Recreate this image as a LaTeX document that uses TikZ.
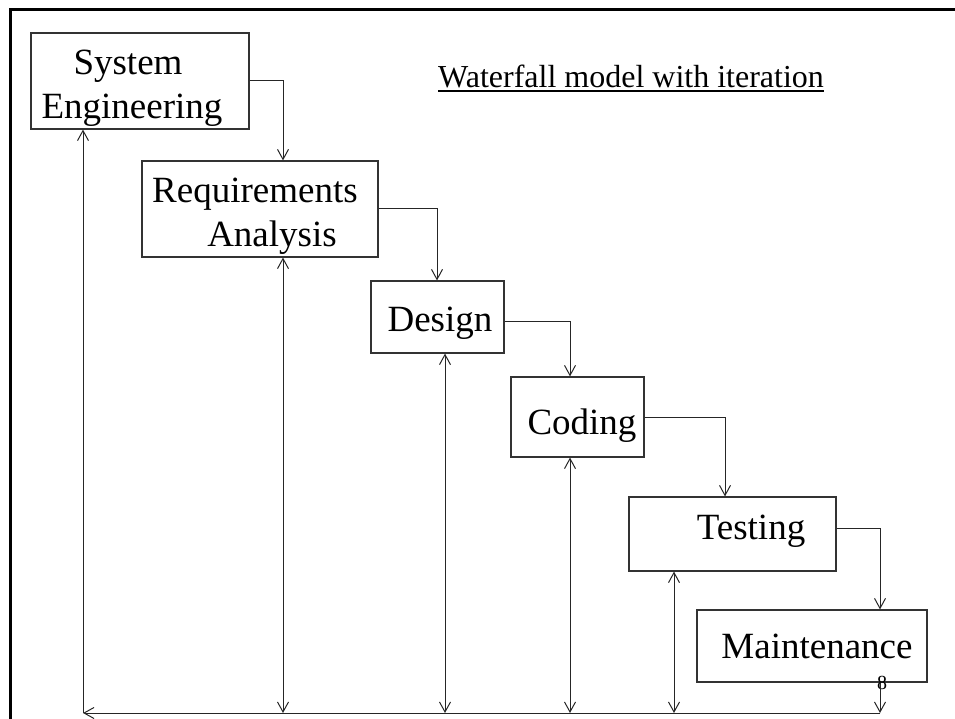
\documentclass[tikz,border=0pt]{standalone}
\usepackage{fontspec}
\setmainfont{Liberation Serif}
\usetikzlibrary{arrows.meta}
\begin{document}
\begin{tikzpicture}[x=1pt,y=-1pt,
  box/.style={draw=black!80,line width=1.2pt,inner sep=0pt,fill=none},
  lbl/.style={inner sep=0pt,anchor=base,font=\fontsize{37}{40}\selectfont},
  conn/.style={draw=black!85,line width=1pt},
  tip/.style={-{Straight Barb[length=10pt,width=11pt]}},
  dtip/.style={{Straight Barb[length=10pt,width=11pt]}-{Straight Barb[length=10pt,width=11pt]}}]
\useasboundingbox (0,0) rectangle (955,719);
% frame
\draw[line width=3pt] (10,730) -- (10,10) -- (965,10);
% title
\node[inner sep=0pt,anchor=base west,font=\fontsize{32}{36}\selectfont] (title) at (438,88) {Waterfall model with iteration};
\draw[line width=2pt] ([yshift=-3.5pt]title.base west) -- ([yshift=-3.5pt]title.base east);
% boxes
\node[box,minimum width=218pt,minimum height=96pt] (se) at (140,81) {};
\node[box,minimum width=236pt,minimum height=96pt] (req) at (260,209) {};
\node[box,minimum width=133pt,minimum height=72pt] (des) at (437.5,317) {};
\node[box,minimum width=133pt,minimum height=80pt] (cod) at (577.5,417) {};
\node[box,minimum width=207pt,minimum height=74pt] (tst) at (732.5,534) {};
\node[box,minimum width=230pt,minimum height=72pt] (mnt) at (812,646) {};
% labels
\node[lbl] (seA) at (128,75) {System};
\node[lbl] (seB) at (132,119) {Engineering};
\node[lbl] (reqA) at (255,203) {Requirements};
\node[lbl] (reqB) at (272,247) {Analysis};
\node[lbl] (desL) at (440,331) {Design};
\node[lbl] (codL) at (582,434) {Coding};
\node[lbl] (tstL) at (751,539) {Testing};
\node[lbl] (mntL) at (817,658) {Maintenance};
\node[inner sep=0pt,anchor=base,font=\fontsize{20}{22}\selectfont] (pg) at (882,689) {8};
% columns
\coordinate (x1) at (283,0);
\coordinate (x2) at (437,0);
\coordinate (x3) at (570,0);
\coordinate (x4) at (725,0);
\coordinate (x5) at (880,0);
\coordinate (bl) at (83,713);
\coordinate (br) at (880,713);
\coordinate (t1) at (283,713);
\coordinate (t2) at (445,713);
\coordinate (t3) at (570,713);
\coordinate (t4) at (674,713);
% forward flow
\draw[conn,tip] (se.east) -| (x1 |- req.north);
\draw[conn,tip] (req.east) -| (x2 |- des.north);
\draw[conn,tip] ([yshift=-4pt]des.east) -| (x3 |- cod.north);
\draw[conn,tip] (cod.east) -| (x4 |- tst.north);
\draw[conn,tip] ([yshift=6pt]tst.east) -| (x5 |- mnt.north);
% feedback
\draw[conn,tip] (x5 |- mnt.south) -- (br);
\draw[conn,tip] (br) -- (bl);
\draw[conn,tip] (bl) -- (bl |- se.south);
\draw[conn,dtip] (t1) -- (t1 |- req.south);
\draw[conn,dtip] (t2) -- (t2 |- des.south);
\draw[conn,dtip] (t3) -- (t3 |- cod.south);
\draw[conn,dtip] (t4) -- (t4 |- tst.south);
\end{tikzpicture}
\end{document}
